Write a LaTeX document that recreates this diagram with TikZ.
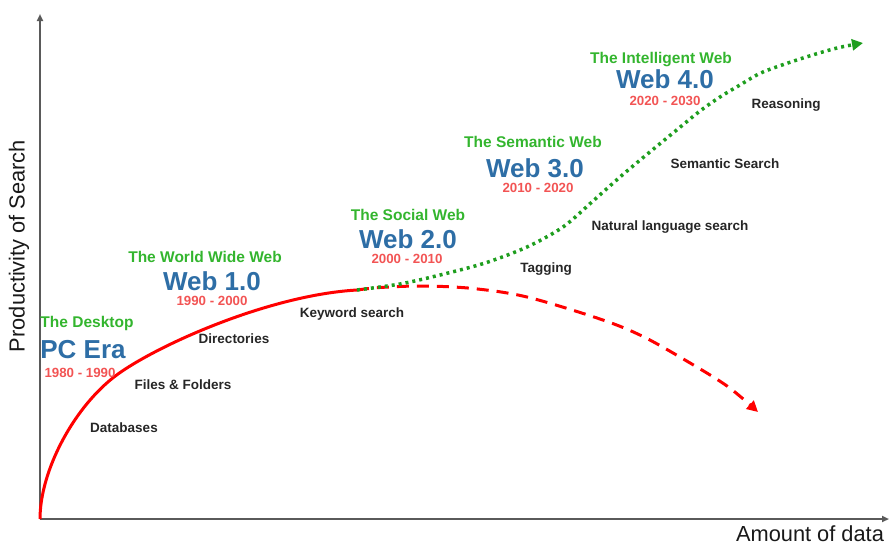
\documentclass[tikz,border=0pt]{standalone}
\usepackage{fontspec}
\setmainfont{Liberation Sans}
\usepackage{xcolor}
\usetikzlibrary{arrows.meta}
\definecolor{eragreen}{RGB}{51,181,46}
\definecolor{erablue}{RGB}{46,110,166}
\definecolor{erared}{RGB}{242,84,84}
\definecolor{axisgray}{RGB}{90,90,90}
\definecolor{dotgreen}{RGB}{30,158,30}

\begin{document}
\begin{tikzpicture}[
        x=1pt, y=1pt,
        era title/.style={anchor=base, inner sep=0pt, font=\bfseries\fontsize{15.5}{18}\selectfont, text=eragreen},
        era name/.style={anchor=base, inner sep=0pt, font=\bfseries\fontsize{26}{30}\selectfont, text=erablue},
        era years/.style={anchor=base, inner sep=0pt, font=\bfseries\fontsize{13.3}{16}\selectfont, text=erared},
        search label/.style={anchor=base, inner sep=0pt, font=\bfseries\fontsize{13.5}{16}\selectfont, text=black!85},
        axis line/.style={draw=axisgray, line width=2pt, -{Triangle[length=7pt,width=6pt]}},
        trend/.style={line width=3pt, #1}
    ]
    \useasboundingbox (0,-542) rectangle (890,0);

    % axes
    \coordinate (origin) at (40,-519);
    \coordinate (ytip) at (40,-14);
    \coordinate (xtip) at (889,-519);
    \draw [axis line] (origin) -- (ytip);
    \draw [axis line] (origin) -- (xtip);
    \node (ylabel) [rotate=90, inner sep=0pt, font=\fontsize{21.8}{24}\selectfont, text=black!90] at (19,-246) {Productivity of Search};
    \node (xlabel) [anchor=base, inner sep=0pt, font=\fontsize{21.8}{24}\selectfont, text=black!90] at (810,-541.5) {Amount of data};

    % growth curves
    \coordinate (c0) at (40,-519);
    \coordinate (cm) at (118,-374);
    \coordinate (c1) at (357,-290);
    \coordinate (c2) at (758,-412);
    \coordinate (c3) at (863,-43);
    \draw [trend=red] (c0) .. controls (40,-470) and (75,-405) .. (cm)
        .. controls (160,-344) and (270,-295) .. (c1);
    \draw [trend=red, dash pattern=on 12pt off 8pt, -{Triangle[length=11pt,width=11pt]}]
        plot [smooth, tension=0.55] coordinates {(c1) (380,-287.5) (423,-286) (473,-288.5) (527,-297) (600,-319) (642,-336) (685,-360) (727,-386) (c2)};
    \draw [trend=dotgreen, line width=3.5pt, dash pattern=on 3pt off 4pt, -{Triangle[length=11pt,width=11pt]}]
        plot [smooth, tension=0.5] coordinates {(c1) (400,-284) (440,-275) (485,-263) (527,-247) (563,-227) (593,-201) (620,-177) (645,-156) (673,-133) (700,-111) (720,-97) (740,-85) (763,-72) (803,-58) (837,-48) (c3)};

    % eras
    \node (desk)  [era title] at (87,-327.5) {The Desktop};
    \node (pc)    [era name]  at (83,-358) {PC Era};
    \node (pcy)   [era years] at (80,-377) {1980 - 1990};

    \node (www)   [era title] at (205,-262.5) {The World Wide Web};
    \node (web1)  [era name]  at (212,-290) {Web 1.0};
    \node (web1y) [era years] at (212,-305) {1990 - 2000};

    \node (soc)   [era title] at (408,-220.5) {The Social Web};
    \node (web2)  [era name]  at (408,-248) {Web 2.0};
    \node (web2y) [era years] at (407,-263) {2000 - 2010};

    \node (sem)   [era title] at (533,-147.5) {The Semantic Web};
    \node (web3)  [era name]  at (535,-177) {Web 3.0};
    \node (web3y) [era years] at (538,-192.5) {2010 - 2020};

    \node (intl)  [era title] at (661,-63.5) {The Intelligent Web};
    \node (web4)  [era name]  at (665,-88) {Web 4.0};
    \node (web4y) [era years] at (665,-105.5) {2020 - 2030};

    % search techniques
    \node (db)   [search label] at (124,-432.5) {Databases};
    \node (ff)   [search label] at (183,-389.5) {Files \& Folders};
    \node (dir)  [search label] at (234,-343) {Directories};
    \node (kw)   [search label] at (352,-317) {Keyword search};
    \node (tag)  [search label] at (546,-272) {Tagging};
    \node (nls)  [search label] at (670,-230) {Natural language search};
    \node (ss)   [search label] at (725,-168) {Semantic Search};
    \node (rsn)  [search label] at (786,-108) {Reasoning};
\end{tikzpicture}
\end{document}
